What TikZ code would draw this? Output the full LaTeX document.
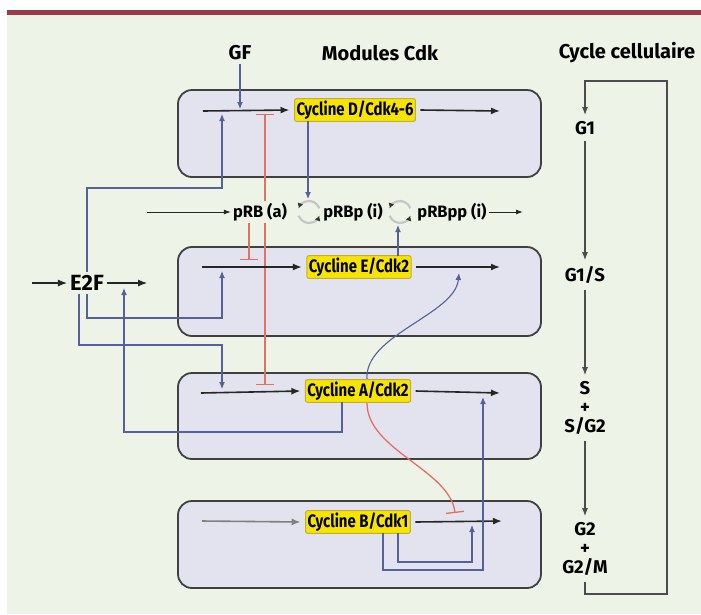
\documentclass[tikz,border=0pt]{standalone}
\usepackage{fontspec}
\setmainfont{Fira Sans}
\newfontfamily\condfont{Fira Sans}[FakeStretch=0.83]
\usetikzlibrary{arrows.meta,positioning}
\definecolor{bgcol}{HTML}{EEF3E7}
\definecolor{topbar}{HTML}{9A3B47}
\definecolor{boxfill}{HTML}{E3E3EF}
\definecolor{boxline}{HTML}{404040}
\definecolor{cycfill}{HTML}{F7E400}
\definecolor{cycedge}{HTML}{C2AE3A}
\definecolor{actblue}{HTML}{56609A}
\definecolor{inhred}{HTML}{E4705F}
\tikzset{
  head/.style={font=\bfseries\fontsize{20}{23}\selectfont},
  module/.style={draw=boxline,line width=1.8pt,fill=boxfill,rounded corners=14pt},
  cyc/.style={fill=cycfill,draw=cycedge,line width=1pt,rounded corners=2pt,inner sep=2pt,outer xsep=5pt,outer ysep=0pt,font=\condfont\bfseries\fontsize{18}{20}\selectfont},
  flow/.style={draw=black!85,line width=1.6pt,-{Latex[length=9pt,width=7pt]}},
  act/.style={draw=actblue,line width=1.1pt,-{Latex[length=7pt,width=6pt]}},
  inh/.style={draw=inhred,line width=1.3pt,-{Bar[width=18pt,line width=1.3pt]}},
  mutinh/.style={draw=inhred,line width=1.3pt,{Bar[width=18pt,line width=1.3pt]}-{Bar[width=18pt,line width=1.3pt]}},
  prb/.style={fill=bgcol,inner sep=2pt,font=\bfseries\fontsize{16.5}{18}\selectfont},
  phase/.style={align=center,inner sep=6pt,font=\bfseries\fontsize{18.5}{19}\selectfont},
  cell/.style={draw=black!70,line width=1.2pt,-{Latex[length=8pt,width=6pt]}},
  recyc/.style={draw=gray!45,line width=2.2pt,-{Latex[length=5pt,width=6pt,color=black!80]}}
}
\begin{document}
\begin{tikzpicture}[x=1pt,y=-1pt]
  \useasboundingbox (0,0) rectangle (701,614);
  \fill[white] (0,0) rectangle (701,614);
  \fill[bgcol] (7,15) rectangle (701,614);
  \fill[topbar] (7,10) rectangle (701,15);
  % modules
  \foreach \ytop/\ybot in {90/177,247/336,373/459,501/588} { \draw[module] (178,\ytop) rectangle (541,\ybot); }
  % cycline A acts on E and inhibits B
  \draw[act] (367,380) .. controls (363,335) and (455,315) .. (459,273);
  \draw[inh] (367,403) .. controls (367,450) and (450,470) .. (455,513);
  \draw[mutinh] (265,114) -- (265,385);
  % nodes
  \node[head] (gf) at (240,53) {GF};
  \node[head] (modules) at (380,53) {Modules Cdk};
  \node[head] (cellcycle) at (627,53) {Cycle cellulaire};
  \node[cyc] (cycD) at (355,110) {Cycline D/Cdk4-6};
  \node[cyc] (cycE) at (359,267) {Cycline E/Cdk2};
  \node[cyc] (cycA) at (358,391) {Cycline A/Cdk2};
  \node[cyc] (cycB) at (358,522) {Cycline B/Cdk1};
  \node[prb] (pRBa) at (260,212) {pRB (a)};
  \node[prb] (pRBp) at (353,212) {pRBp (i)};
  \node[prb] (pRBpp) at (452,212) {pRBpp (i)};
  \node[font=\bfseries\fontsize{22}{24}\selectfont,fill=bgcol,inner sep=3pt] (e2f) at (87,283) {E2F};
  \node[phase] (g1) at (585,128) {G1};
  \node[phase] (g1s) at (585,275) {G1/S};
  \node[phase] (sg2) at (585,408) {S\\+\\S/G2};
  \node[phase] (g2m) at (585,549) {G2\\+\\G2/M};
  \coordinate (turn1) at (309,212);
  \coordinate (turn2) at (400,212);
  % flows in the modules
  \draw[flow] (203,111) -- (cycD.west);
  \draw[flow] (cycD.east) -- (500,111);
  \draw[flow] (202,267) -- (cycE.west);
  \draw[flow] (cycE.east) -- (500,267);
  \draw[flow] (201,393) -- (cycA.west);
  \draw[flow] (cycA.east) -- (500,393);
  \draw[flow,draw=gray] (202,521) -- (cycB.west);
  \draw[flow] (cycB.east) -- (502,521);
  % pRB
  \draw[flow,line width=1pt,-{Latex[length=7pt,width=5pt]}] (147,212) -- (pRBa.west);
  \draw[flow,line width=1pt,-{Latex[length=7pt,width=5pt]}] (pRBpp.east) -- (523,212);
  \foreach \t in {turn1,turn2} {
    \draw[recyc] (\t) ++(160:11) arc (160:20:11);
    \draw[recyc] (\t) ++(340:11) arc (340:200:11);
  }
  \draw[act] ([xshift=-47pt]cycD.south) -- (308,199);
  \draw[act] ([xshift=39pt]cycE.north) -- (398,225);
  \draw[inh] ([xshift=-11pt]pRBa.south) -- (249,260);
  % GF and E2F
  \draw[act] (gf.south) -- (240,109);
  \draw[flow,line width=1.1pt] (32,283) -- (e2f.west);
  \draw[flow,line width=1.1pt] (e2f.east) -- (147,283);
  \draw[act] (e2f.north) |- (222,188) -- (222,114);
  \draw[act] (e2f.south) |- (222,318) -- (222,271);
  \draw[act] ([xshift=-8pt]e2f.south) |- (222,345) -- (222,389);
  \draw[act] ([xshift=-16pt]cycA.south) |- (124,432) -- (124,288);
  % cycline B feedback
  \draw[act] ([xshift=25pt]cycB.south) |- (483,570) -- (483,397);
  \draw[act] ([xshift=40pt]cycB.south) |- (472,562) -- (472,525);
  % cell cycle
  \draw[cell] (g1) -- (g1s);
  \draw[cell] (g1s) -- (sg2);
  \draw[cell] (sg2) -- (g2m);
  \draw[cell] (g2m.south) |- (667,594) -- (667,81) -| (g1.north);
\end{tikzpicture}
\end{document}
